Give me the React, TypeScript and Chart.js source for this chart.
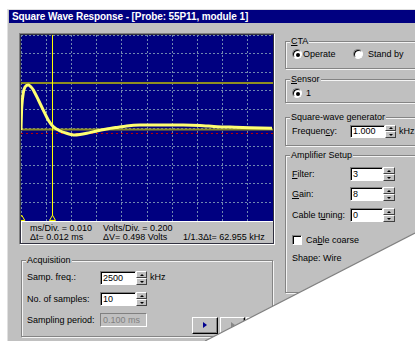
import React, { useEffect, useRef } from "react";
import { Chart, registerables } from "chart.js";

Chart.register(...registerables);

// ---- data (time in microseconds, amplitude in volts) ----
const timeUs = [0, 0.3, 0.9, 1.6, 2.9, 3.8, 4.9, 6.9, 8.8, 10.8, 12.8, 15.5, 18.1, 20.8, 23.4, 26.1, 30.0, 34.0, 37.7, 41.9, 47.2, 55.2, 64.3, 71.0, 77.8, 84.9, 90.9, 99.6];
const volts = [-0.022, 0.226, 0.376, 0.441, 0.462, 0.446, 0.409, 0.301, 0.194, 0.086, 0.014, -0.032, -0.057, -0.075, -0.07, -0.057, -0.032, -0.011, 0.005, 0.022, 0.032, 0.032, 0.032, 0.027, 0.014, 0.008, 0.003, -0.003];
const usPerDiv = 10;
const voltsPerDiv = 0.2;
const divisions = 10;
const cursorTimesUs = [0.3, 12.5];
const cursorVolts = [-0.015, 0.483];
const zeroVolts = -0.059;

const infoRow1 = ["ms/Div. = 0.010", "Volts/Div. = 0.200"];
const infoRow2 = ["\u0394t= 0.012 ms", "\u0394V= 0.498 Volts", "1/1.3\u0394t= 62.955 kHz"];

const FONT = '"Liberation Sans", Arial, sans-serif';
const GRAY = "#c0c0c0";

const A = (l: number, t: number, w?: number, h?: number): React.CSSProperties => ({
  position: "absolute",
  left: l,
  top: t,
  width: w,
  height: h,
  boxSizing: "border-box",
});

function Text({ x, yc, children, color, size }: any) {
  return (
    <div style={{ ...A(x, yc - 6), height: 12, lineHeight: "12px", whiteSpace: "nowrap", color: color || "#000", fontSize: size || 9 }}>
      {children}
    </div>
  );
}

function Group({ x, y, w, h, label }: any) {
  return (
    <>
      <div style={{ ...A(x, y, w, h), border: "1px solid #848484", boxShadow: "1px 1px 0 #f4f4f4, inset 1px 1px 0 #f4f4f4" }} />
      <div style={{ ...A(x + 5, y - 6), height: 12, lineHeight: "12px", background: GRAY, padding: "0 1px", whiteSpace: "nowrap", fontSize: 9 }}>{label}</div>
    </>
  );
}

function TextBox({ x, y, w, h, value, disabled }: any) {
  return (
    <div
      style={{
        ...A(x, y, w, h),
        background: disabled ? GRAY : "#fff",
        borderTop: "1px solid #808080",
        borderLeft: "1px solid #808080",
        borderBottom: "1px solid #fff",
        borderRight: "1px solid #fff",
        boxShadow: disabled ? "none" : "inset 1px 1px 0 #000",
        fontSize: 9,
        lineHeight: h - 2 + "px",
        paddingLeft: 2,
        color: disabled ? "#808080" : "#000",
        whiteSpace: "nowrap",
      }}
    >
      {value}
    </div>
  );
}

function Spin({ x, y, w, h }: any) {
  const half = Math.floor(h / 2);
  const btn = (top: number, hh: number, up: boolean) => (
    <div
      style={{
        ...A(x, top, w, hh),
        background: GRAY,
        borderTop: "1px solid #fff",
        borderLeft: "1px solid #fff",
        borderBottom: "1px solid #404040",
        borderRight: "1px solid #404040",
      }}
    >
      <div
        style={{
          position: "absolute",
          left: (w - 2) / 2 - 2,
          top: (hh - 2) / 2 - 1,
          width: 0,
          height: 0,
          borderLeft: "2px solid transparent",
          borderRight: "2px solid transparent",
          ...(up ? { borderBottom: "2px solid #000" } : { borderTop: "2px solid #000" }),
        }}
      />
    </div>
  );
  return (
    <>
      {btn(y, half, true)}
      {btn(y + half, h - half, false)}
    </>
  );
}

function Radio({ cx, cy, checked }: any) {
  return (
    <div
      style={{
        ...A(cx - 5, cy - 5, 10, 10),
        borderRadius: "50%",
        background: "#fff",
        borderTop: "1px solid #808080",
        borderLeft: "1px solid #808080",
        borderBottom: "1px solid #fff",
        borderRight: "1px solid #fff",
        boxShadow: "inset 1px 1px 0 #000",
      }}
    >
      {checked ? <div style={{ ...A(2.5, 2.5, 4, 4), borderRadius: "50%", background: "#000" }} /> : null}
    </div>
  );
}

function Button({ x, y, w, h, arrowColor, hollow }: any) {
  return (
    <div
      style={{
        ...A(x, y, w, h),
        background: GRAY,
        borderTop: "1px solid #fff",
        borderLeft: "1px solid #fff",
        borderBottom: "1px solid #000",
        borderRight: "1px solid #000",
        boxShadow: "inset -1px -1px 0 #808080",
      }}
    >
      <div
        style={{
          position: "absolute",
          left: w / 2 - 3,
          top: h / 2 - 5,
          width: 0,
          height: 0,
          borderTop: "3px solid transparent",
          borderBottom: "3px solid transparent",
          borderLeft: "4px solid " + arrowColor,
          opacity: hollow ? 0.7 : 1,
        }}
      />
    </div>
  );
}

function Scope() {
  const ref = useRef<HTMLCanvasElement | null>(null);
  useEffect(() => {
    if (!ref.current) return;
    const xMax = usPerDiv * divisions;
    const yHalf = (voltsPerDiv * divisions) / 2;
    const bg = {
      id: "scopeBg",
      beforeDraw(chart: any) {
        const { ctx, chartArea: a } = chart;
        ctx.save();
        ctx.fillStyle = "#000080";
        ctx.fillRect(a.left, a.top, a.right - a.left, a.bottom - a.top);
        ctx.restore();
      },
    };
    const hLine = (v: number) => [
      { x: 0, y: v },
      { x: xMax, y: v },
    ];
    const chart = new Chart(ref.current, {
      type: "line",
      data: {
        datasets: [
          {
            data: cursorTimesUs.map((t) => ({ x: t, y: -yHalf + 0.025 })),
            type: "scatter",
            pointStyle: "triangle",
            pointRadius: 3.5,
            borderColor: "#ffff00",
            backgroundColor: "#000080",
            borderWidth: 1,
          } as any,
          {
            data: timeUs.map((t, i) => ({ x: t, y: volts[i] })),
            borderColor: "#ffff72",
            borderWidth: 3,
            pointRadius: 0,
            tension: 0.25,
          },
          {
            data: [
              { x: cursorTimesUs[1], y: -yHalf },
              { x: cursorTimesUs[1], y: yHalf },
            ],
            borderColor: "#ffff00",
            borderWidth: 1,
            pointRadius: 0,
          },
          {
            data: hLine(cursorVolts[1]),
            borderColor: "#8e8e22",
            borderWidth: 2,
            pointRadius: 0,
          },
          {
            data: hLine(cursorVolts[0]),
            borderColor: "#8e8e22",
            borderWidth: 2,
            pointRadius: 0,
          },
          {
            data: hLine(zeroVolts),
            borderColor: "#c00000",
            borderWidth: 1,
            borderDash: [2, 3],
            pointRadius: 0,
          },
        ],
      },
      options: {
        responsive: false,
        animation: false,
        events: [],
        layout: { padding: 0, autoPadding: false } as any,
        plugins: { legend: { display: false }, tooltip: { enabled: false } },
        scales: {
          x: {
            type: "linear",
            min: 0,
            max: xMax,
            ticks: { display: false, stepSize: usPerDiv },
            grid: { color: "#7088b0", lineWidth: 1, drawTicks: false, tickLength: 0 },
            border: { display: false, dash: [2, 2] },
            afterFit: (s: any) => {
              s.height = 0;
            },
          },
          y: {
            type: "linear",
            min: -yHalf,
            max: yHalf,
            ticks: { display: false, stepSize: voltsPerDiv },
            grid: { color: "#7088b0", lineWidth: 1, drawTicks: false, tickLength: 0 },
            border: { display: false, dash: [2, 2] },
            afterFit: (s: any) => {
              s.width = 0;
            },
          },
        },
      } as any,
      plugins: [bg],
    });
    return () => chart.destroy();
  }, []);
  return <canvas ref={ref} width={252} height={186} style={{ ...A(21, 35, 252, 186), display: "block" }} />;
}

export default function App() {
  return (
    <div style={{ position: "fixed", left: 0, top: 0, width: 415, height: 341, overflow: "hidden", background: "#fff", fontFamily: FONT, fontSize: 9, color: "#000" }}>
      {/* dialog body */}
      <div style={{ ...A(7, 9, 420, 340), background: GRAY, borderLeft: "1px solid #e0e0e0", borderTop: "1px solid #e0e0e0" }} />
      {/* title bar */}
      <div style={{ ...A(9, 10, 410, 13), background: "#000080" }} />
      <div style={{ ...A(12, 10), height: 13, lineHeight: "13px", color: "#fff", fontWeight: "bold", fontSize: 10, whiteSpace: "nowrap", letterSpacing: -0.1 }}>
        Square Wave Response - [Probe: 55P11, module 1]
      </div>

      {/* scope frame */}
      <div style={{ ...A(19, 33, 256, 212), background: "#303040", borderTop: "1px solid #808080", borderLeft: "1px solid #808080", borderBottom: "1px solid #fff", borderRight: "1px solid #fff" }} />
      <Scope />
      <div style={{ ...A(21, 221, 252, 22), background: GRAY, borderTop: "1px solid #fff", borderLeft: "1px solid #fff" }} />
      <Text x={30} yc={228}>{infoRow1[0]}</Text>
      <Text x={103} yc={228}>{infoRow1[1]}</Text>
      <Text x={30} yc={237}>{infoRow2[0]}</Text>
      <Text x={103} yc={237}>{infoRow2[1]}</Text>
      <Text x={183} yc={237}>{infoRow2[2]}</Text>

      {/* Acquisition */}
      <Group x={21} y={260} w={252} h={77} label="Acquisition" />
      <Text x={27} yc={277}>Samp. freq.:</Text>
      <TextBox x={100} y={271} w={36} h={14} value="2500" />
      <Spin x={136} y={271} w={11} h={14} />
      <Text x={150} yc={277}>kHz</Text>
      <Text x={27} yc={299}>No. of samples:</Text>
      <TextBox x={100} y={292} w={36} h={14} value="10" />
      <Spin x={136} y={292} w={11} h={14} />
      <Text x={27} yc={320}>Sampling period:</Text>
      <TextBox x={100} y={313} w={47} h={14} value="0.100 ms" disabled />
      <Button x={192} y={317} w={26} h={17} arrowColor="#000090" />
      <Button x={220} y={317} w={25} h={17} arrowColor="#707070" hollow />
      <Button x={246} y={317} w={26} h={17} arrowColor="#c0c0c0" />

      {/* CTA */}
      <Group x={285} y={41} w={140} h={28} label={<><u>C</u>TA</>} />
      <Radio cx={297} cy={54} checked />
      <Text x={303} yc={54}>Operate</Text>
      <Radio cx={358} cy={54} />
      <Text x={368} yc={54}>Stand by</Text>

      {/* Sensor */}
      <Group x={285} y={79} w={140} h={24} label={<><u>S</u>ensor</>} />
      <Radio cx={297} cy={93} checked />
      <Text x={306} yc={93}>1</Text>

      {/* Square-wave generator */}
      <Group x={285} y={117} w={140} h={29} label="Square-wave generator" />
      <Text x={292} yc={131}>Frequen<u>c</u>y:</Text>
      <TextBox x={350} y={125} w={35} h={13} value="1.000" />
      <Spin x={385} y={125} w={11} h={13} />
      <Text x={399} yc={131}>kHz</Text>

      {/* Amplifier Setup */}
      <Group x={285} y={155} w={140} h={138} label="Amplifier Setup" />
      <Text x={292} yc={174}><u>F</u>ilter:</Text>
      <TextBox x={350} y={167} w={33} h={14} value="3" />
      <Spin x={383} y={167} w={12} h={14} />
      <Text x={292} yc={194}><u>G</u>ain:</Text>
      <TextBox x={350} y={187} w={33} h={14} value="8" />
      <Spin x={383} y={187} w={12} h={14} />
      <Text x={292} yc={215}>Cable t<u>u</u>ning:</Text>
      <TextBox x={350} y={208} w={33} h={14} value="0" />
      <Spin x={383} y={208} w={12} h={14} />
      <div style={{ ...A(292, 235, 10, 10), background: "#fff", borderTop: "1px solid #808080", borderLeft: "1px solid #808080", borderBottom: "1px solid #fff", borderRight: "1px solid #fff", boxShadow: "inset 1px 1px 0 #000" }} />
      <Text x={306} yc={240}>Ca<u>b</u>le coarse</Text>
      <Text x={292} yc={258}>Shape: Wire</Text>

      {/* torn page corner */}
      <svg width={415} height={341} style={{ position: "absolute", left: 0, top: 0 }}>
        <polygon points="415,233 415,341 205,341" fill="#ffffff" />
        <line x1={205} y1={341} x2={415} y2={233} stroke="#808080" strokeWidth={1.2} />
      </svg>
    </div>
  );
}
